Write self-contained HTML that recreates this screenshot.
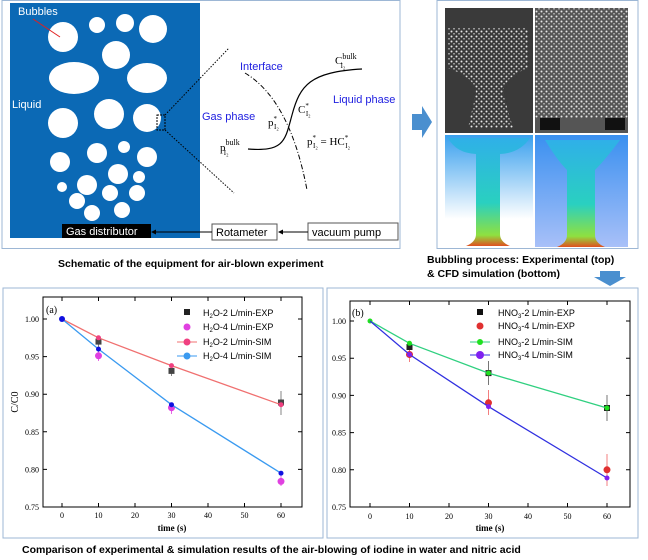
<!DOCTYPE html>
<html><head><meta charset="utf-8"><style>
html,body{margin:0;padding:0;background:#fff;}
svg{display:block;font-family:"Liberation Sans",Arial,sans-serif;}
.ser{font-family:"Liberation Serif",serif;}
</style></head><body>
<svg width="648" height="560" viewBox="0 0 648 560" xmlns="http://www.w3.org/2000/svg">
<defs>
<linearGradient id="cfd" x1="0" y1="0" x2="0" y2="1">
<stop offset="0" stop-color="#2fb0e8"/><stop offset="0.6" stop-color="#2ad0c0"/><stop offset="0.9" stop-color="#8fe040"/><stop offset="1" stop-color="#e05020"/></linearGradient>
<linearGradient id="bg1" x1="0" y1="0" x2="0" y2="1"><stop offset="0" stop-color="#3aa0ee"/><stop offset="0.75" stop-color="#ffffff"/></linearGradient>
<linearGradient id="bg2" x1="0" y1="0" x2="0" y2="1"><stop offset="0" stop-color="#3a90f0"/><stop offset="1" stop-color="#a8c0f8"/></linearGradient>
<pattern id="dots" width="5" height="5" patternUnits="userSpaceOnUse">
<circle cx="1.5" cy="1.5" r="1" fill="#e8e8e8"/><circle cx="4" cy="3.8" r="0.8" fill="#cfcfcf"/></pattern>
</defs>
<!-- top-left panel -->
<rect x="2" y="0.5" width="398" height="248" fill="#fff" stroke="#9db7d5"/>
<rect x="10" y="3" width="190" height="235" fill="#0b69b5"/>
<g fill="#fff">
<circle cx="63" cy="37" r="15"/><circle cx="97" cy="25" r="8"/><circle cx="125" cy="23" r="9"/><circle cx="153" cy="29" r="14"/>
<circle cx="116" cy="55" r="14"/><ellipse cx="74" cy="78" rx="25" ry="16"/><ellipse cx="147" cy="78" rx="20" ry="15"/>
<circle cx="63" cy="123" r="15"/><circle cx="109" cy="114" r="15"/><circle cx="147" cy="118" r="14"/>
<circle cx="60" cy="162" r="10"/><circle cx="97" cy="153" r="10"/><circle cx="124" cy="147" r="6"/><circle cx="147" cy="157" r="10"/>
<circle cx="118" cy="174" r="10"/><circle cx="139" cy="177" r="6"/><circle cx="87" cy="185" r="10"/><circle cx="62" cy="187" r="5"/>
<circle cx="110" cy="193" r="8"/><circle cx="137" cy="193" r="8"/><circle cx="77" cy="201" r="8"/><circle cx="92" cy="213" r="8"/><circle cx="122" cy="210" r="8"/>
</g>
<text x="18" y="15" font-size="11" fill="#fff">Bubbles</text>
<line x1="33" y1="19" x2="60" y2="37" stroke="#e02020" stroke-width="1"/>
<text x="12" y="108" font-size="11" fill="#fff">Liquid</text>
<rect x="157" y="115" width="8" height="15" fill="none" stroke="#000" stroke-dasharray="2,1"/>
<line x1="165" y1="115" x2="229" y2="48" stroke="#000" stroke-dasharray="1.5,1.5"/>
<line x1="165" y1="130" x2="234" y2="193" stroke="#000" stroke-dasharray="1.5,1.5"/>
<path d="M245,73 Q290,100 307,190" fill="none" stroke="#000" stroke-dasharray="5,2,1,2"/>
<path d="M248,149 C285,152 285,140 292,115 C300,85 310,72 362,69" fill="none" stroke="#000" stroke-width="1.2"/>
<text x="240" y="70" font-size="11" fill="#2020e0">Interface</text>
<text x="202" y="120" font-size="11" fill="#2020e0">Gas phase</text>
<text x="333" y="103" font-size="11" fill="#2020e0">Liquid phase</text>
<g class="ser" font-size="11" fill="#000">
<text x="335" y="64">C<tspan font-size="8" dy="-5">bulk</tspan><tspan font-size="7" dx="-16" dy="9">I₂</tspan></text>
<text x="298" y="113">C<tspan font-size="7" dy="-5">*</tspan><tspan font-size="7" dx="-3" dy="8">I₂</tspan></text>
<text x="268" y="126">p<tspan font-size="7" dy="-5">*</tspan><tspan font-size="7" dx="-3" dy="8">I₂</tspan></text>
<text x="220" y="151">p<tspan font-size="8" dy="-6">bulk</tspan><tspan font-size="7" dx="-16" dy="10">I₂</tspan></text>
<text x="307" y="145">p<tspan font-size="7" dy="-5">*</tspan><tspan font-size="7" dx="-3" dy="8">I₂</tspan><tspan dy="-3"> = HC</tspan><tspan font-size="7" dy="-5">*</tspan><tspan font-size="7" dx="-3" dy="8">I₂</tspan></text>
</g>
<rect x="62" y="224" width="89" height="14" fill="#000"/>
<text x="66" y="235" font-size="11" fill="#fff">Gas distributor</text>
<rect x="212" y="224" width="65" height="16" fill="#fff" stroke="#555"/>
<text x="216" y="236" font-size="11">Rotameter</text>
<rect x="308" y="223" width="90" height="17" fill="#fff" stroke="#555"/>
<text x="312" y="236" font-size="11">vacuum pump</text>
<line x1="212" y1="232" x2="154" y2="232" stroke="#000"/><path d="M151,232 l5,-2.5 v5z"/>
<line x1="308" y1="232" x2="281" y2="232" stroke="#000"/><path d="M278,232 l5,-2.5 v5z"/>
<text x="58" y="267" font-size="10.5" font-weight="bold">Schematic of the equipment for air-blown experiment</text>
<!-- arrow -->
<path d="M412,114 h10 v-8 l10,16 l-10,16 v-8 h-10z" fill="#4a8fcf"/>
<!-- top-right panel -->
<rect x="437" y="0.5" width="201" height="248" fill="#fff" stroke="#9db7d5"/>
<rect x="445" y="8" width="88" height="125" fill="#3a3a3a"/>
<path d="M448,28 h80 v40 q-25,10 -25,25 l10,35 h-45 l8,-35 q0,-15 -28,-25z" fill="url(#dots)"/>
<rect x="535" y="8" width="93" height="125" fill="#555"/>
<rect x="535" y="8" width="93" height="110" fill="url(#dots)"/>
<path d="M565,118 l15,-30 l15,30z" fill="url(#dots)"/>
<path d="M540,118 h20 v12 h-20z M605,118 h20 v12 h-20z" fill="#111"/>
<rect x="445" y="135" width="88" height="112" fill="url(#bg1)"/>
<path d="M448,138 h82 q-10,15 -30,16 v80 q0,8 10,12 h-44 q10,-4 10,-12 v-80 q-20,-1 -28,-16z" fill="url(#cfd)"/>
<rect x="535" y="135" width="93" height="112" fill="url(#bg2)"/>
<path d="M545,140 h75 q-15,20 -25,30 v65 q0,8 10,12 h-48 q10,-4 10,-12 v-65 q-10,-10 -22,-30z" fill="url(#cfd)"/>
<text x="427" y="263" font-size="10.5" font-weight="bold">Bubbling process: Experimental (top)</text>
<text x="427" y="277" font-size="10.5" font-weight="bold">&amp; CFD simulation (bottom)</text>
<path d="M600,271 h20 v6 h6 l-16,9 l-16,-9 h6z" fill="#4a8fcf"/>
<!-- bottom-left panel -->
<rect x="3" y="288" width="320" height="250" fill="#fff" stroke="#9db7d5"/>
<g class="ser" font-size="8">
<rect x="43" y="297" width="259" height="210" fill="none" stroke="#000"/>
<g stroke="#000">
<path d="M62,507v-4M98.5,507v-4M135,507v-4M171.5,507v-4M208,507v-4M244.5,507v-4M281,507v-4M62,297v4M98.5,297v4M135,297v4M171.5,297v4M208,297v4M244.5,297v4M281,297v4"/>
<path d="M43,319h4M43,356.6h4M43,394.2h4M43,431.8h4M43,469.4h4M302,319h-4M302,356.6h-4M302,394.2h-4M302,431.8h-4M302,469.4h-4"/>
</g>
<g text-anchor="end"><text x="39" y="322">1.00</text><text x="39" y="359.6">0.95</text><text x="39" y="397.2">0.90</text><text x="39" y="434.8">0.85</text><text x="39" y="472.4">0.80</text><text x="39" y="510">0.75</text></g>
<g text-anchor="middle"><text x="62" y="518">0</text><text x="98.5" y="518">10</text><text x="135" y="518">20</text><text x="171.5" y="518">30</text><text x="208" y="518">40</text><text x="244.5" y="518">50</text><text x="281" y="518">60</text>
<text x="172" y="531" font-size="9" font-weight="bold">time (s)</text></g>
<text transform="translate(18,402) rotate(-90)" text-anchor="middle" font-size="10">C/C0</text>
<text x="46" y="313" font-size="10">(a)</text>
</g>
<g stroke-width="0.8">
<path d="M98.5,337v10M171.5,366v10M281,391v24" stroke="#666"/>
<path d="M98.5,349v12M171.5,403v11M281,476v10" stroke="#e040e0"/>
</g>
<g fill="#444"><rect x="95.5" y="338.6" width="6" height="6"/><rect x="168.5" y="367.9" width="6" height="6"/><rect x="278" y="399.5" width="6" height="6"/></g>
<g fill="#e040e0"><circle cx="98.5" cy="355.8" r="3.5"/><circle cx="171.5" cy="407.7" r="3.5"/><circle cx="281" cy="481.4" r="3.5"/></g>
<polyline points="62,319 98.5,337.8 171.5,365.6 281,404.7" fill="none" stroke="#f07070" stroke-width="1.3"/>
<g fill="#f04080"><circle cx="98.5" cy="337.8" r="2.5"/><circle cx="171.5" cy="365.6" r="2.5"/><circle cx="281" cy="404.7" r="2.5"/></g>
<polyline points="62,319 98.5,349.1 171.5,404.7 281,473.2" fill="none" stroke="#3a9af0" stroke-width="1.3"/>
<g fill="#1010e0"><circle cx="62" cy="319" r="3"/><circle cx="98.5" cy="349.1" r="2.5"/><circle cx="171.5" cy="404.7" r="2.5"/><circle cx="281" cy="473.2" r="2.5"/></g>
<g font-size="9">
<rect x="184" y="309" width="6" height="6" fill="#222"/>
<circle cx="187" cy="327" r="3.5" fill="#e040e0"/>
<line x1="177" y1="342" x2="197" y2="342" stroke="#f07070"/><circle cx="187" cy="342" r="3.5" fill="#f04080"/>
<line x1="177" y1="356" x2="197" y2="356" stroke="#3a9af0"/><circle cx="187" cy="356" r="3.5" fill="#3a9af0"/>
<text x="203" y="316">H<tspan font-size="6" dy="2">2</tspan><tspan dy="-2">O-2 L/min-EXP</tspan></text>
<text x="203" y="330">H<tspan font-size="6" dy="2">2</tspan><tspan dy="-2">O-4 L/min-EXP</tspan></text>
<text x="203" y="345">H<tspan font-size="6" dy="2">2</tspan><tspan dy="-2">O-2 L/min-SIM</tspan></text>
<text x="203" y="359">H<tspan font-size="6" dy="2">2</tspan><tspan dy="-2">O-4 L/min-SIM</tspan></text>
</g>
<!-- bottom-right panel -->
<rect x="327" y="288" width="311" height="250" fill="#fff" stroke="#9db7d5"/>
<g class="ser" font-size="8">
<rect x="350" y="301" width="280" height="206" fill="none" stroke="#000"/>
<g stroke="#000">
<path d="M370,507v-4M409.5,507v-4M449,507v-4M488.5,507v-4M528,507v-4M567.5,507v-4M607,507v-4M370,301v4M409.5,301v4M449,301v4M488.5,301v4M528,301v4M567.5,301v4M607,301v4"/>
<path d="M350,321h4M350,358.2h4M350,395.4h4M350,432.6h4M350,469.8h4M630,321h-4M630,358.2h-4M630,395.4h-4M630,432.6h-4M630,469.8h-4"/>
</g>
<g text-anchor="end"><text x="346" y="324">1.00</text><text x="346" y="361.2">0.95</text><text x="346" y="398.4">0.90</text><text x="346" y="435.6">0.85</text><text x="346" y="472.8">0.80</text><text x="346" y="510">0.75</text></g>
<g text-anchor="middle"><text x="370" y="519">0</text><text x="409.5" y="519">10</text><text x="449" y="519">20</text><text x="488.5" y="519">30</text><text x="528" y="519">40</text><text x="567.5" y="519">50</text><text x="607" y="519">60</text>
<text x="490" y="531" font-size="9" font-weight="bold">time (s)</text></g>
<text x="352" y="316" font-size="10">(b)</text>
</g>
<g stroke-width="0.8">
<path d="M409.5,342v10M488.5,361v24M607,395v26" stroke="#555"/>
<path d="M409.5,348v14M488.5,390v25M607,454v32" stroke="#f06060"/>
</g>
<g fill="#e03030"><circle cx="409.5" cy="354.5" r="3.5"/><circle cx="488.5" cy="402.8" r="3.5"/><circle cx="607" cy="469.8" r="3.5"/></g>
<g fill="#222"><rect x="406.5" y="344" width="6" height="6"/><rect x="485.5" y="370.1" width="6" height="6"/><rect x="604" y="405" width="6" height="6"/></g>
<polyline points="370,321 409.5,343.3 488.5,373.1 607,408" fill="none" stroke="#30d080" stroke-width="1.3"/>
<g fill="#20e020"><circle cx="370" cy="321" r="2.5"/><circle cx="409.5" cy="343.3" r="2.5"/><circle cx="488.5" cy="373.1" r="2.5"/><circle cx="607" cy="408" r="2.5"/></g>
<polyline points="370,321 409.5,354.5 488.5,406.6 607,478" fill="none" stroke="#3030e0" stroke-width="1.3"/>
<g fill="#8020f0"><circle cx="409.5" cy="354.5" r="2.5"/><circle cx="488.5" cy="406.6" r="2.5"/><circle cx="607" cy="478" r="2.5"/></g>
<g font-size="9">
<rect x="477" y="309" width="6" height="6" fill="#111"/>
<circle cx="480" cy="326" r="3.5" fill="#e03030"/>
<line x1="470" y1="342" x2="490" y2="342" stroke="#30d080"/><circle cx="480" cy="342" r="3" fill="#20e020"/>
<line x1="470" y1="355" x2="490" y2="355" stroke="#3030e0"/><circle cx="480" cy="355" r="4" fill="#8020f0"/>
<text x="498" y="316">HNO<tspan font-size="6" dy="2">3</tspan><tspan dy="-2">-2 L/min-EXP</tspan></text>
<text x="498" y="329">HNO<tspan font-size="6" dy="2">3</tspan><tspan dy="-2">-4 L/min-EXP</tspan></text>
<text x="498" y="345">HNO<tspan font-size="6" dy="2">3</tspan><tspan dy="-2">-2 L/min-SIM</tspan></text>
<text x="498" y="358">HNO<tspan font-size="6" dy="2">3</tspan><tspan dy="-2">-4 L/min-SIM</tspan></text>
</g>
<text x="22" y="553" font-size="10.5" font-weight="bold">Comparison of experimental &amp; simulation results of the air-blowing of iodine in water and nitric acid</text>
</svg>
</body></html>
